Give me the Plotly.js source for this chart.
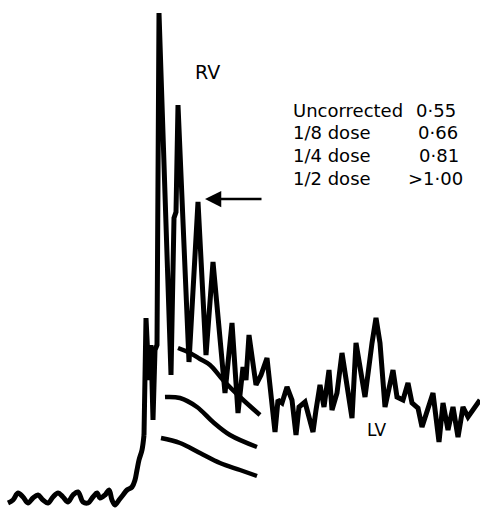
<!DOCTYPE html>
<html>
<head>
<meta charset="utf-8">
<script src="https://cdn.plot.ly/plotly-3.0.1.min.js"></script>
<style>html,body{margin:0;padding:0;background:#fff;}#chart{width:480px;height:510px;}</style>
</head>
<body>
<div id="chart"></div>
<script>
// Background (pre-bolus) segment of the time-activity curve
var baseTime = [8,13,18,23,28,33,38,43,48,53,58,63,68,73,78,83,88,93,97,100,105,109,112,115,119,123,127,132,135,137,139,142,144];
var baseCounts = [7,10,17,13,7,12,15,10,7,13,17,13,8,15,18,8,7,13,17,12,15,20,10,5,10,15,20,23,30,40,50,60,75];
// First-pass segment (RV then LV)
var time = [144,146,149,151,153,155,157,159,171,174,176,178,189,198,206,213,225,232,238,243,246,249,256,261,267,272,275,278,282,287,292,296,299,305,308,313,316,320,324,329,332,337,342,347,352,356,360,365,372,376,380,385,393,397,403,408,412,418,422,427,433,439,443,448,453,458,463,468,473,480];
var counts = [75,192,130,165,90,160,165,497,135,292,298,405,148,308,155,248,117,187,97,143,130,175,125,135,152,110,78,110,107,123,110,75,103,108,97,78,100,125,103,140,100,117,157,120,92,167,143,113,167,192,167,103,140,113,110,127,107,102,83,100,117,68,107,80,103,73,103,93,100,110];

// Corrected (fitted) RV decay curves
var fit1Time = [178,190,200,210,223,240,260];
var fit1Counts = [162,157,151,145,130,113,95];
var fit2Time = [165,180,197,213,230,257];
var fit2Counts = [113,112,103,88,75,63];
var fit3Time = [161,180,200,220,240,257];
var fit3Counts = [72,67,57,47,40,34];

// Legend table text
var correctionLabels = ["Uncorrected", "1/8 dose", "1/4 dose", "1/2 dose"];
var ratioLabels = ["0·55", "0·66", "0·81", ">1·00"];

var traces = [
  {x: baseTime, y: baseCounts, mode: 'lines', line: {color: '#000', width: 5, shape: 'spline', smoothing: 1}, hoverinfo: 'none'},
  {x: time, y: counts, mode: 'lines', line: {color: '#000', width: 5, shape: 'linear'}, hoverinfo: 'none'},
  {x: fit1Time, y: fit1Counts, mode: 'lines', line: {color: '#000', width: 4.5, shape: 'spline'}, hoverinfo: 'none'},
  {x: fit2Time, y: fit2Counts, mode: 'lines', line: {color: '#000', width: 4.5, shape: 'spline'}, hoverinfo: 'none'},
  {x: fit3Time, y: fit3Counts, mode: 'lines', line: {color: '#000', width: 4.5, shape: 'spline'}, hoverinfo: 'none'}
];

var font = {family: 'DejaVu Sans', size: 18, color: '#000'};
var annotations = [];
var rowY = [400, 378, 355, 332];
var valX = [414, 416, 417, 406];
for (var i = 0; i < correctionLabels.length; i++) {
  annotations.push({x: 291, y: rowY[i], xref: 'x', yref: 'y', text: correctionLabels[i], showarrow: false, xanchor: 'left', yanchor: 'middle', font: font});
  annotations.push({x: valX[i], y: rowY[i], xref: 'x', yref: 'y', text: ratioLabels[i], showarrow: false, xanchor: 'left', yanchor: 'middle', font: font});
}
annotations.push({x: 207, y: 438, xref: 'x', yref: 'y', text: 'RV', showarrow: false, font: {family: 'DejaVu Sans', size: 19, color: '#000'}});
annotations.push({x: 377, y: 80, xref: 'x', yref: 'y', text: 'LV', showarrow: false, font: {family: 'DejaVu Sans', size: 17, color: '#000'}});
annotations.push({x: 205, y: 311, xref: 'x', yref: 'y', ax: 263, ay: 311, axref: 'x', ayref: 'y', text: '', showarrow: true, arrowhead: 2, arrowsize: 1.3, arrowwidth: 2.5, arrowcolor: '#000'});

var layout = {
  width: 480, height: 510,
  margin: {l: 0, r: 0, t: 0, b: 0},
  paper_bgcolor: '#fff', plot_bgcolor: '#fff',
  showlegend: false,
  xaxis: {range: [0, 480], visible: false, fixedrange: true},
  yaxis: {range: [0, 510], visible: false, fixedrange: true},
  annotations: annotations
};
Plotly.newPlot('chart', traces, layout, {displayModeBar: false, staticPlot: true});
</script>
</body>
</html>
